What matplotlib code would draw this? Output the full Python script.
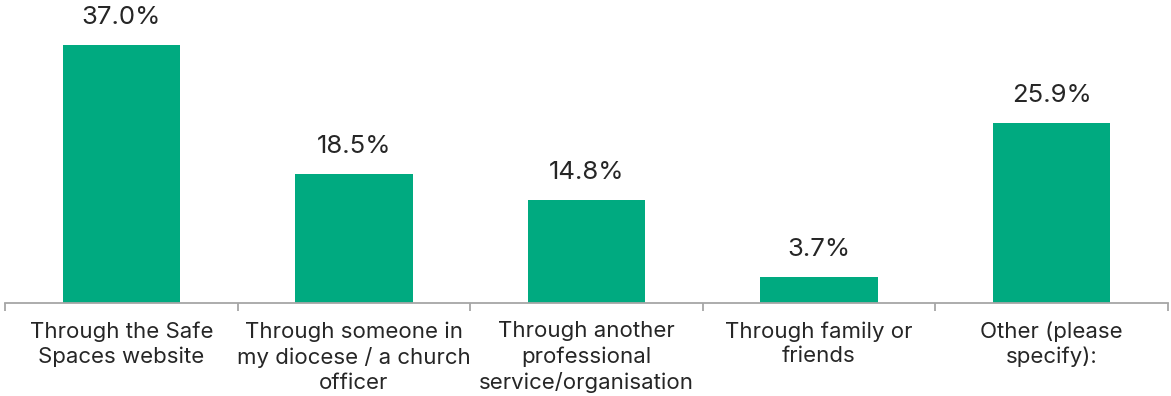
import matplotlib
matplotlib.use("Agg")
import matplotlib.pyplot as plt
import numpy as np

categories = [
    "Through the Safe\nSpaces website",
    "Through someone in\nmy diocese / a church\nofficer",
    "Through another\nprofessional\nservice/organisation",
    "Through family or\nfriends",
    "Other (please\nspecify):",
]
values = [37.0, 18.5, 14.8, 3.7, 25.9]

plt.rcParams['font.family'] = ['Inter', 'DejaVu Sans']

fig = plt.figure(figsize=(11.71, 3.96), dpi=100)
ax = fig.add_axes([5 / 1171, 93 / 396, 1163 / 1171, 303 / 396])

x = np.arange(len(values))
bars = ax.bar(x, values, width=0.505, color="#00AA80")
for b, v in zip(bars, values):
    ax.text(b.get_x() + b.get_width() / 2, v + 2.3, f"{v:.1f}%",
            ha="center", va="bottom", fontsize=18.5, color="#262626")

ax.set_xlim(-0.5, len(values) - 0.5)
ax.set_ylim(0, 43.5)
ax.set_yticks([])
for s in ["top", "right", "left"]:
    ax.spines[s].set_visible(False)
ax.spines["bottom"].set_color("#A6A6A6")
ax.spines["bottom"].set_linewidth(1.3)

# boundary ticks between categories
ax.set_xticks(np.arange(len(values) + 1) - 0.5)
ax.set_xticklabels([])
ax.tick_params(axis="x", length=6, color="#A6A6A6", width=1.3)
for i, lab in enumerate(categories):
    ax.text(i, -2.6, lab, ha="center", va="top", fontsize=16,
            color="#262626", linespacing=1.3, transform=ax.transData)

fig.savefig("out.png", dpi=100)
